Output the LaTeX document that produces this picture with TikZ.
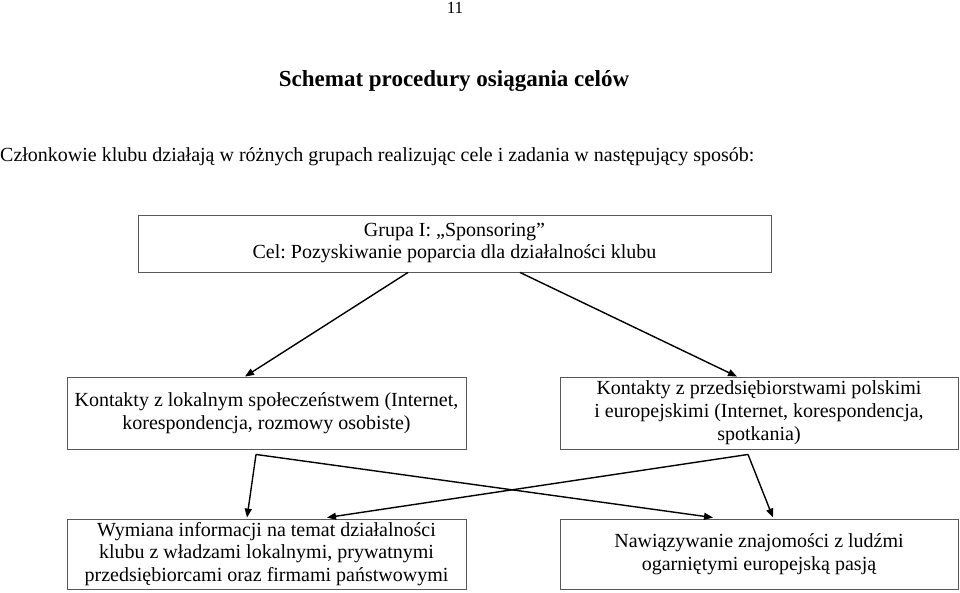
\documentclass[tikz,border=0pt]{standalone}
\usepackage{fontspec}
\setmainfont{Liberation Serif}
\frenchspacing
\usetikzlibrary{arrows.meta,calc}
\tikzset{
  box/.style={draw=black!65, line width=0.9pt, rectangle, align=center, inner sep=0pt, text=black},
  conn/.style={line width=1.4pt, -{Triangle[length=9pt,width=7pt]}},
  plain/.style={inner sep=0pt, align=center},
  bodyfont/.style={font=\fontsize{20}{23}\selectfont}
}
\begin{document}
\begin{tikzpicture}[x=1pt,y=-1pt]
\useasboundingbox[fill=white] (0,0) rectangle (960,592);
\node[plain, font=\fontsize{17}{19}\selectfont] (pg) at (455,8) {11};
\node[plain, font=\bfseries\fontsize{23}{26}\selectfont] (title) at (454,81) {Schemat procedury osiągania celów};
\node[plain, anchor=west, bodyfont] (intro) at (0,157) {Członkowie klubu działają w różnych grupach realizując cele i zadania w następujący sposób:};
\node[box, minimum width=633pt, minimum height=57pt, font=\fontsize{20}{22}\selectfont] (top) at (454.5,243.5) {\raisebox{-1.5pt}{Grupa I: „Sponsoring”}\\\raisebox{-1.5pt}{Cel: Pozyskiwanie poparcia dla działalności klubu}};
\node[box, minimum width=399pt, minimum height=72pt, bodyfont] (ml) at (266.5,413) {Kontakty z lokalnym społeczeństwem (Internet,\\korespondencja, rozmowy osobiste)};
\node[box, minimum width=398pt, minimum height=72pt, bodyfont] (mr) at (759,413) {Kontakty z przedsiębiorstwami polskimi\\i europejskimi (Internet, korespondencja,\\spotkania)};
\node[box, minimum width=399pt, minimum height=70pt, font=\fontsize{20}{22.5}\selectfont] (bl) at (266.5,554) {Wymiana informacji na temat działalności\\klubu z władzami lokalnymi, prywatnymi\\przedsiębiorcami oraz firmami państwowymi};
\node[box, minimum width=398pt, minimum height=70pt, bodyfont] (br) at (759,554) {Nawiązywanie znajomości z ludźmi\\ogarniętymi europejską pasją};
\draw[conn] ($(top.south)+(-46.5,0)$) -- ($(ml.north)+(-21.5,0)$);
\draw[conn] ($(top.south)+(65.5,0)$) -- ($(mr.north)+(-22,0)$);
\draw[conn] ($(ml.south)+(-10.5,5)$) -- ($(bl.north)+(-19.5,-1)$);
\draw[conn] ($(ml.south)+(-10.5,5)$) -- ($(br.north)+(-46,-1)$);
\draw[conn] ($(mr.south)+(-11,5)$) -- ($(br.north)+(14,-1)$);
\draw[conn] ($(mr.south)+(-11,5)$) -- ($(bl.north)+(60.5,-1)$);
\end{tikzpicture}
\end{document}
